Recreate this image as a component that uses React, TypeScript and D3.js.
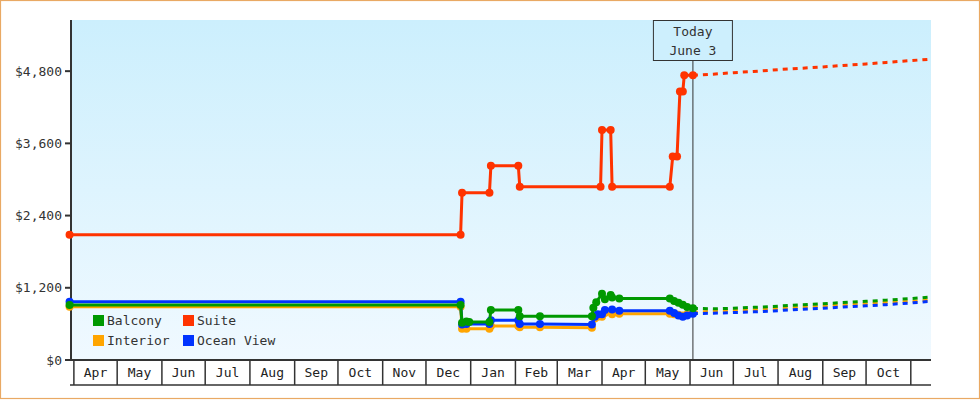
import React from 'react';
import * as d3 from 'd3';

type Pt = [string, number];

// ---------- data ----------
const xDomain: [string, string] = ['2023-03-30', '2024-11-15'];
const yDomainMax = 5650;
const yTickValues = [0, 1200, 2400, 3600, 4800];
const monthStarts = [
  '2023-04-01', '2023-05-01', '2023-06-01', '2023-07-01', '2023-08-01', '2023-09-01',
  '2023-10-01', '2023-11-01', '2023-12-01', '2024-01-01', '2024-02-01', '2024-03-01',
  '2024-04-01', '2024-05-01', '2024-06-01', '2024-07-01', '2024-08-01', '2024-09-01',
  '2024-10-01', '2024-11-01',
];
const todayDate = '2024-06-03';
const todayLines = ['Today', 'June 3'];

const suiteHistory: Pt[] = [
  ['2023-03-29', 2080], ['2023-12-25', 2080], ['2023-12-26', 2780], ['2024-01-14', 2780],
  ['2024-01-15', 3230], ['2024-02-03', 3230], ['2024-02-04', 2880], ['2024-03-31', 2880],
  ['2024-04-01', 3820], ['2024-04-07', 3820], ['2024-04-08', 2880], ['2024-05-18', 2880],
  ['2024-05-20', 3380], ['2024-05-23', 3380], ['2024-05-25', 4460], ['2024-05-27', 4460],
  ['2024-05-28', 4730], ['2024-06-03', 4730],
];
const suiteForecast: Pt[] = [
  ['2024-06-03', 4730], ['2024-06-17', 4750], ['2024-07-01', 4775], ['2024-07-15', 4795],
  ['2024-08-01', 4825], ['2024-08-15', 4845], ['2024-09-01', 4870], ['2024-09-15', 4895],
  ['2024-10-01', 4920], ['2024-10-15', 4945], ['2024-11-01', 4975], ['2024-11-15', 5000],
];

const balconyHistory: Pt[] = [
  ['2023-03-29', 915], ['2023-12-25', 915], ['2023-12-26', 620], ['2023-12-29', 640],
  ['2023-12-31', 630], ['2024-01-14', 630], ['2024-01-15', 830], ['2024-02-03', 830],
  ['2024-02-04', 725], ['2024-02-18', 725], ['2024-03-25', 725], ['2024-03-26', 870],
  ['2024-03-28', 960], ['2024-04-01', 1100], ['2024-04-03', 1010], ['2024-04-07', 1080],
  ['2024-04-08', 1040], ['2024-04-13', 1020], ['2024-05-18', 1020], ['2024-05-21', 980],
  ['2024-05-24', 950], ['2024-05-27', 920], ['2024-05-30', 880], ['2024-06-03', 860],
];
const balconyForecast: Pt[] = [
  ['2024-06-03', 860], ['2024-06-17', 850], ['2024-07-01', 860], ['2024-07-15', 875],
  ['2024-08-01', 895], ['2024-08-15', 915], ['2024-09-01', 935], ['2024-09-15', 955],
  ['2024-10-01', 975], ['2024-10-15', 995], ['2024-11-01', 1020], ['2024-11-15', 1045],
];

const interiorHistory: Pt[] = [
  ['2023-03-29', 885], ['2023-12-25', 885], ['2023-12-26', 520], ['2023-12-29', 520],
  ['2024-01-14', 520], ['2024-01-15', 565], ['2024-02-03', 565], ['2024-02-04', 545],
  ['2024-02-18', 545], ['2024-03-25', 535], ['2024-03-27', 690], ['2024-03-29', 720],
  ['2024-04-01', 720], ['2024-04-03', 780], ['2024-04-08', 760], ['2024-04-13', 770],
  ['2024-05-18', 770], ['2024-05-21', 760], ['2024-05-24', 750], ['2024-05-27', 740],
  ['2024-05-30', 760], ['2024-06-03', 790],
];
const interiorForecast: Pt[] = [
  ['2024-06-03', 790], ['2024-06-17', 810], ['2024-07-01', 820], ['2024-07-15', 835],
  ['2024-08-01', 855], ['2024-08-15', 875], ['2024-09-01', 895], ['2024-09-15', 915],
  ['2024-10-01', 935], ['2024-10-15', 955], ['2024-11-01', 975], ['2024-11-15', 995],
];

const oceanHistory: Pt[] = [
  ['2023-03-29', 970], ['2023-12-25', 970], ['2023-12-26', 590], ['2023-12-29', 600],
  ['2024-01-14', 600], ['2024-01-15', 660], ['2024-02-03', 660], ['2024-02-04', 600],
  ['2024-02-18', 600], ['2024-03-25', 590], ['2024-03-27', 720], ['2024-03-29', 760],
  ['2024-04-01', 760], ['2024-04-03', 830], ['2024-04-08', 840], ['2024-04-13', 820],
  ['2024-05-18', 820], ['2024-05-21', 780], ['2024-05-24', 740], ['2024-05-27', 720],
  ['2024-05-30', 740], ['2024-06-03', 770],
];
const oceanForecast: Pt[] = [
  ['2024-06-03', 770], ['2024-06-17', 778], ['2024-07-01', 788], ['2024-07-15', 800],
  ['2024-08-01', 820], ['2024-08-15', 840], ['2024-09-01', 860], ['2024-09-15', 880],
  ['2024-10-01', 900], ['2024-10-15', 920], ['2024-11-01', 948], ['2024-11-15', 975],
];

const seriesNames = ['Interior', 'Ocean View', 'Balcony', 'Suite'];
const seriesHistory: Pt[][] = [interiorHistory, oceanHistory, balconyHistory, suiteHistory];
const seriesForecast: Pt[][] = [interiorForecast, oceanForecast, balconyForecast, suiteForecast];
const seriesColors = ['#FFA500', '#0033FF', '#009900', '#FF3300'];
const legendRows = [['Balcony', 'Suite'], ['Interior', 'Ocean View']];

// ---------- layout ----------
const W = 980;
const H = 400;
const plot = { left: 71, right: 931, top: 20, bottom: 360 };
const axisBoxBottom = 385;
const FONT = "'DejaVu Sans Mono', monospace";
const INK = '#333333';

const parse = d3.timeParse('%Y-%m-%d');
const P = (s: string) => parse(s) as Date;

export default function App() {
  const x = d3.scaleTime().domain(xDomain.map(P)).range([plot.left, plot.right]);
  const y = d3.scaleLinear().domain([0, yDomainMax]).range([plot.bottom, plot.top]);
  const line = d3
    .line<Pt>()
    .x((d) => x(P(d[0])))
    .y((d) => y(d[1]));
  const fmtMoney = (v: number) => '$' + d3.format(',')(v);
  const fmtMonth = d3.timeFormat('%b');
  const months = monthStarts.map(P);
  const tx = x(P(todayDate));
  const colorOf = (name: string) => seriesColors[seriesNames.indexOf(name)];

  return (
    <div style={{ position: 'absolute', left: 0, top: 0 }}>
      <svg width={W} height={H} style={{ display: 'block' }}>
        <defs>
          <linearGradient id="bg" x1="0" y1="0" x2="0" y2="1">
            <stop offset="0" stopColor="#CCEFFD" />
            <stop offset="1" stopColor="#F0F9FF" />
          </linearGradient>
        </defs>
        <rect x={0} y={0} width={W} height={H} fill="#ffffff" />
        <rect x={0.5} y={0.5} width={W - 1} height={H - 2} fill="none" stroke="#E9A964" strokeWidth={1.2} />
        <rect
          x={plot.left}
          y={plot.top}
          width={plot.right - plot.left}
          height={plot.bottom - plot.top}
          fill="url(#bg)"
        />

        {/* y axis */}
        <line x1={plot.left} x2={plot.left} y1={plot.top} y2={plot.bottom + 1} stroke={INK} strokeWidth={2} />
        {yTickValues.map((v) => (
          <g key={v}>
            <line x1={plot.left - 6} x2={plot.left} y1={y(v)} y2={y(v)} stroke={INK} strokeWidth={2} />
            <text
              x={plot.left - 9}
              y={y(v) + 4.5}
              textAnchor="end"
              fontFamily={FONT}
              fontSize={13}
              fill={INK}
            >
              {fmtMoney(v)}
            </text>
          </g>
        ))}

        {/* x axis month boxes */}
        <line x1={plot.left} x2={plot.right} y1={plot.bottom} y2={plot.bottom} stroke={INK} strokeWidth={2} />
        <line x1={plot.left - 1} x2={plot.right} y1={axisBoxBottom} y2={axisBoxBottom} stroke={INK} strokeWidth={1.5} />
        {months.map((m, i) => (
          <g key={i}>
            <line x1={x(m)} x2={x(m)} y1={plot.bottom} y2={axisBoxBottom} stroke={INK} strokeWidth={1.5} />
            {i < months.length - 1 && (
              <text
                x={(x(m) + x(months[i + 1])) / 2}
                y={377}
                textAnchor="middle"
                fontFamily={FONT}
                fontSize={13}
                fill="#222"
              >
                {fmtMonth(m)}
              </text>
            )}
          </g>
        ))}

        {/* today marker */}
        <line x1={tx} x2={tx} y1={60} y2={plot.bottom} stroke={INK} strokeWidth={1} />
        <rect x={tx - 39.5} y={20.5} width={79} height={40} fill="#CDEFFD" stroke={INK} strokeWidth={1} />
        {todayLines.map((t, i) => (
          <text
            key={t}
            x={tx}
            y={36 + i * 18.5}
            textAnchor="middle"
            fontFamily={FONT}
            fontSize={13}
            fill={INK}
          >
            {t}
          </text>
        ))}

        {/* series */}
        {seriesNames.map((name, si) => (
          <g key={name}>
            <path
              d={line(seriesForecast[si]) || ''}
              fill="none"
              stroke={seriesColors[si]}
              strokeWidth={3}
              strokeDasharray="5,5"
            />
            <path
              d={line(seriesHistory[si]) || ''}
              fill="none"
              stroke={seriesColors[si]}
              strokeWidth={3}
              strokeLinejoin="round"
            />
            {seriesHistory[si].map((d, i) => (
              <circle key={i} cx={x(P(d[0]))} cy={y(d[1])} r={4} fill={seriesColors[si]} />
            ))}
          </g>
        ))}

        {/* legend */}
        {legendRows.map((row, ri) =>
          row.map((name, ci) => (
            <g key={name} transform={`translate(${93 + ci * 90},${315 + ri * 20})`}>
              <rect x={0} y={0} width={11} height={11} fill={colorOf(name)} />
              <text x={14} y={10} fontFamily={FONT} fontSize={13} fill={INK}>
                {name}
              </text>
            </g>
          ))
        )}
      </svg>
    </div>
  );
}
